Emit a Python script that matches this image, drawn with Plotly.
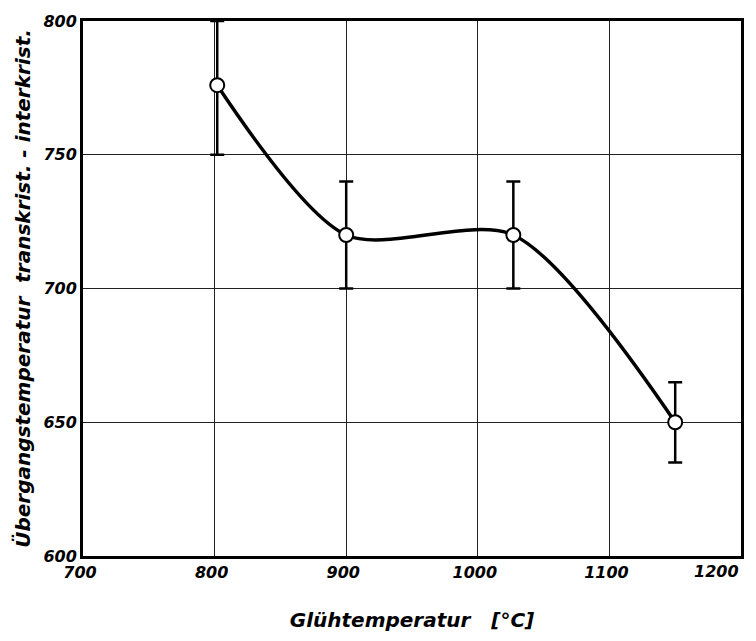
import plotly.graph_objects as go

gluehtemp = [802, 900, 1027, 1150]
uebergang = [776, 720, 720, 650]
err_plus = [24, 20, 20, 15]
err_minus = [26, 20, 20, 15]

x_ticks = [700, 800, 900, 1000, 1100, 1200]
y_ticks = [600, 650, 700, 750, 800]

FONT = "DejaVu Sans"

fig = go.Figure()
fig.add_trace(go.Scatter(
    x=gluehtemp, y=uebergang, mode="lines",
    line=dict(shape="spline", smoothing=0.8, color="black", width=3.5),
    hoverinfo="skip", showlegend=False,
))
fig.add_trace(go.Scatter(
    x=gluehtemp, y=uebergang, mode="markers",
    marker=dict(symbol="circle", size=14, color="white",
                line=dict(color="black", width=2)),
    error_y=dict(type="data", symmetric=False, array=err_plus,
                 arrayminus=err_minus, color="black", thickness=2.5, width=7),
    showlegend=False,
))

tickfont = dict(family=FONT, size=16, color="black", style="italic", weight="bold")

# last x tick label would overflow the page edge; draw it right-aligned at its tick
fig.add_annotation(x=x_ticks[-1], y=0, xref="x", yref="paper", text=str(x_ticks[-1]),
                   xanchor="right", yanchor="top", yshift=-4, showarrow=False,
                   font=tickfont)

fig.update_layout(
    width=756, height=641,
    margin=dict(l=83, r=14, t=15, b=85),
    paper_bgcolor="white", plot_bgcolor="white",
    xaxis=dict(
        range=[700, 1200], tickvals=x_ticks[:-1], ticktext=[str(v) for v in x_ticks[:-1]],
        showgrid=True, gridcolor="#222", gridwidth=1,
        showline=True, linecolor="black", linewidth=3, mirror=True,
        ticks="", tickfont=tickfont, zeroline=False, ticklabelshift=-3,
        title=dict(text="Glühtemperatur\u00a0\u00a0\u00a0[°C]",
                   font=dict(family=FONT, size=20, color="black", style="italic", weight="bold"),
                   standoff=32),
    ),
    yaxis=dict(
        range=[600, 800], tickvals=y_ticks, ticktext=[str(v) for v in y_ticks],
        showgrid=True, gridcolor="#222", gridwidth=1,
        showline=True, linecolor="black", linewidth=3, mirror=True,
        ticks="", tickfont=tickfont, zeroline=False,
        title=dict(text="Übergangstemperatur\u00a0\u00a0transkrist. - interkrist.",
                   font=dict(family=FONT, size=20, color="black", style="italic", weight="bold"),
                   standoff=8),
    ),
)

fig.write_html("out.html")
